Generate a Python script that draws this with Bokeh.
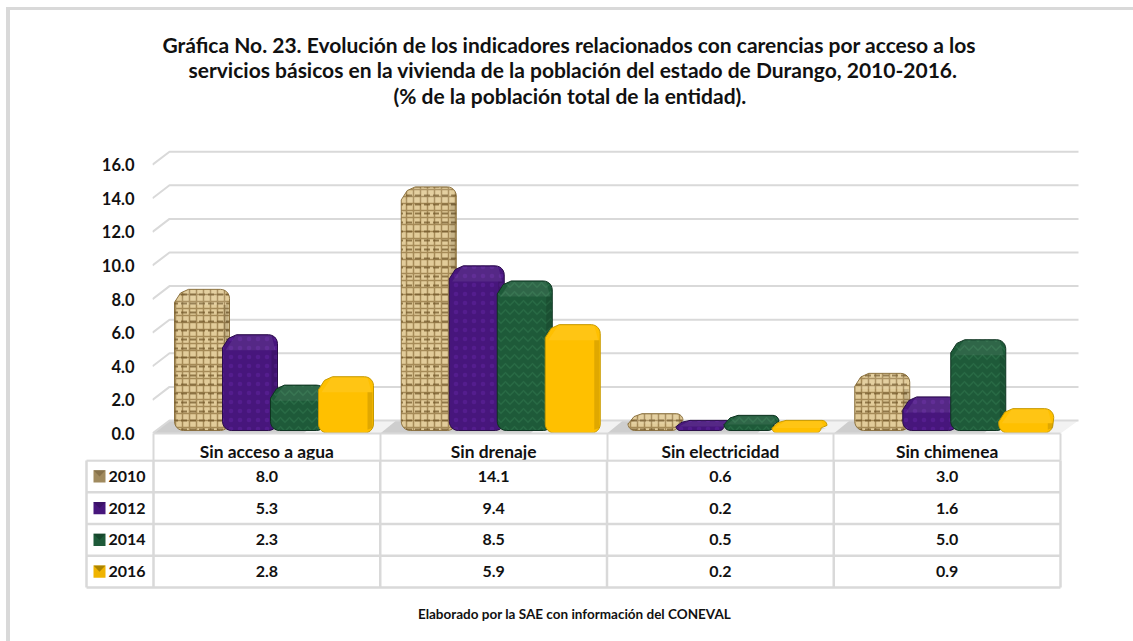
import numpy as np
from bokeh.core.properties import value
from bokeh.embed import file_html
from bokeh.layouts import column
from bokeh.models import FixedTicker, LinearAxis, Range1d, Title
from bokeh.plotting import figure
from bokeh.resources import INLINE

categories = ["Sin acceso a agua", "Sin drenaje", "Sin electricidad", "Sin chimenea"]
years = ["2010", "2012", "2014", "2016"]
v2010 = [8.0, 14.1, 0.6, 3.0]
v2012 = [5.3, 9.4, 0.2, 1.6]
v2014 = [2.3, 8.5, 0.5, 5.0]
v2016 = [2.8, 5.9, 0.2, 0.9]
series = [v2010, v2012, v2014, v2016]
y_ticks = [0, 2, 4, 6, 8, 10, 12, 14, 16]
title_lines = [
    "Gráfica No. 23. Evolución de los indicadores relacionados con carencias por acceso a los",
    "servicios básicos en la vivienda de la población del estado de Durango, 2010-2016.",
    "(% de la población total de la entidad).",
]
note = "Elaborado por la SAE con información del CONEVAL"

FONT = "Lato"
INK = "#111111"
GREY = "#d9d9d9"
fills = ["#E2CC9A", "#47167C", "#1E5A39", "#FFC000"]
hatch_col = ["#8B6D3A", "#5A2096", "#2C7049", "#FFC000"]
hatch_pat = ["cross", "dot", "horizontal_wave", "blank"]
hatch_scl = [7, 9, 9, 7]
edges = ["#8d7443", "#2a0c4a", "#0e3320", "#c79a00"]

KX = 226.75
KY = 16.8
DX = 16 / KX
DY = 13 / KY
BAR_W = 55 / KX
STEP = 48 / KX
LEFT = 21 / KX
TOP_ADD = 0.58
FRAME_H = 326

XSTART = (152 - 153) / KX
XEND = (1133 - 153) / KX

p = figure(width=1123, frame_width=981, frame_height=FRAME_H, frame_align=False,
           min_border_left=142, min_border_right=0, min_border_top=97, min_border_bottom=27,
           output_backend="svg", toolbar_location=None,
           x_range=Range1d(XSTART, XEND), y_range=Range1d(0, FRAME_H / KY),
           x_axis_type=None, y_axis_type=None, outline_line_color=None,
           background_fill_color="white", border_fill_color="white")
p.grid.visible = False

yaxis = LinearAxis(ticker=FixedTicker(ticks=y_ticks), axis_line_color=None,
                   major_tick_line_color=None, minor_tick_line_color=None,
                   major_label_standoff=12, major_label_text_font=FONT,
                   major_label_text_font_style="bold", major_label_text_font_size="16.5px",
                   major_label_text_color=INK,
                   major_label_overrides={t: f"{t:.1f}" for t in y_ticks})
p.add_layout(yaxis, "left")

centers = [i + 0.5 for i in range(len(categories))]
xaxis = LinearAxis(ticker=FixedTicker(ticks=centers, minor_ticks=list(range(len(categories) + 1))),
                   bounds=(0, len(categories)),
                   axis_line_color=GREY, axis_line_width=2,
                   major_tick_line_color=None, minor_tick_line_color=GREY,
                   minor_tick_line_width=2, minor_tick_out=27, minor_tick_in=0,
                   major_label_standoff=-20, major_label_text_font=FONT,
                   major_label_text_font_style="bold", major_label_text_font_size="17.4px",
                   major_label_text_color=INK,
                   major_label_overrides=dict(zip(centers, categories)))
p.add_layout(xaxis, "below")

for line, off, st in zip(reversed(title_lines), [241, 36, 10], [-1, -1, -2]):
    p.add_layout(Title(text=line, align="left", offset=off, standoff=st,
                       text_font=FONT, text_font_style="bold", text_font_size="21px",
                       text_color=INK), "above")

# floor
floor_x = [0, DX, (1078 - 153) / KX, (1060 - 153) / KX]
floor_y = [0, DY, DY, 0]
p.patch(floor_x, floor_y, fill_color="#f2f2f2", line_color=None)
shx, shy = [], []
for i in range(len(categories)):
    a = i - 4 / KX + DX / 4
    shx.append([a, a + DX, a + 165 / KX, a + 150 / KX])
    shy.append([0, DY, DY, 0])
p.patches(shx, shy, fill_color="#c4c4c4", fill_alpha=0.8, line_color=None)

gx = [[XSTART, DX, (1078 - 153) / KX] for t in y_ticks]
gy = [[t, t + DY, t + DY] for t in y_ticks]
p.multi_line(gx, gy, line_color=GREY, line_width=2)


def arc(cx, cy, rx, ry, a0, a1, n=7):
    a = np.radians(np.linspace(a0, a1, n))
    return cx + rx * np.cos(a), cy + ry * np.sin(a)


def bar_outline(x0, v, base):
    """Silhouette of the bevelled column: value -> top edge, through the y scale."""
    x1 = x0 + BAR_W
    top = v + TOP_ADD
    h = (top - base) * KY
    r = min(9.0, h * 0.4)
    inset = max(0.0, (26 - h)) * 0.45 / KX   # low columns look skewed by the perspective
    chy = min(13.0, h * 0.62) / KY
    chx = 12 / KX
    rx, ry = r / KX, r / KY
    xa, ya = arc(x0 + rx, base + ry, rx, ry, 180, 270)
    xb, yb = arc(x1 - rx - inset, base + ry, rx, ry, 270, 360)
    xc, yc = arc(x1 - rx, top - ry, rx, ry, 0, 90)
    xs = np.concatenate([xa, xb, xc, [x0 + chx + 2 / KX, x0 + chx * 0.5, x0]])
    ys = np.concatenate([ya, yb, yc, [top, top - chy * 0.28, top - chy]])
    return xs.tolist(), ys.tolist()


for s, vals in enumerate(series):
    base = 0.03 if s == 3 else 0.18
    xs, ys, tx, ty, rx_, ry_ = [], [], [], [], [], []
    for i, v in enumerate(vals):
        x0 = i + LEFT + s * STEP
        ox, oy = bar_outline(x0, v, base)
        xs.append(ox)
        ys.append(oy)
        top = v + TOP_ADD
        h = top - base
        f = min(DY * 1.2, h * 0.6)
        tx.append([x0 + 3 / KX, x0 + 13 / KX, x0 + BAR_W - 6 / KX, x0 + BAR_W - 2 / KX, x0 + 3 / KX])
        ty.append([top - f, top - 0.05, top - 0.05, top - f, top - f])
        rx_.append([x0 + BAR_W - 6 / KX, x0 + BAR_W - 1 / KX, x0 + BAR_W - 1 / KX, x0 + BAR_W - 6 / KX])
        ry_.append([base + 0.2, base + 0.3, top - f, top - f])
    p.patches(xs, ys, fill_color=fills[s], line_color=edges[s], line_width=1,
              hatch_pattern=hatch_pat[s], hatch_color=hatch_col[s], hatch_scale=hatch_scl[s],
              hatch_weight=1.5, hatch_alpha=0.7)
    if s == 0:
        p.patches(xs, ys, fill_color=None, line_color=None, hatch_pattern="horizontal_dash",
                  hatch_color="#6f5426", hatch_scale=9, hatch_weight=2, hatch_alpha=0.7)
    p.patches(tx, ty, fill_color="white", fill_alpha=0.08, line_color=None)
    p.patches(rx_, ry_, fill_color="black", fill_alpha=0.12, line_color=None)

# table below
T_H = 186
ROW = 31.75
t = figure(width=1123, height=T_H, min_border=0, frame_align=False, output_backend="svg",
           toolbar_location=None, margin=(-5, 0, 0, 0),
           x_range=Range1d((10 - 153) / KX, XEND), y_range=Range1d((T_H - 1) / ROW, -1 / ROW),
           x_axis_type=None, y_axis_type=None, outline_line_color=None,
           background_fill_alpha=0, border_fill_alpha=0)
t.grid.visible = False
xl = (86 - 153) / KX
n_rows = len(years)
t.segment([xl] * (n_rows + 1), list(range(n_rows + 1)), [len(categories)] * (n_rows + 1),
          list(range(n_rows + 1)), line_color=GREY, line_width=2.5)
vx = [xl] + list(range(len(categories) + 1))
t.segment(vx, [0] * len(vx), vx, [n_rows] * len(vx), line_color=GREY, line_width=2.5)

kx0 = (93 - 153) / KX
kx1 = (105 - 153) / KX
rows = list(range(n_rows))
key_h = 0.19
t.quad(left=[kx0] * n_rows, right=[kx1] * n_rows,
       top=[r + 0.5 - key_h for r in rows], bottom=[r + 0.5 + key_h for r in rows],
       fill_color=["#A08A5E", "#47167C", "#1E5A39", "#F0B400"], line_color=None)
t.patches([[kx0, kx1, (kx0 + kx1) / 2] for _ in rows],
          [[r + 0.5 - key_h, r + 0.5 - key_h, r + 0.5] for r in rows],
          fill_color=["#7a6642", "#36105f", "#123f27", "#8f6f00"], fill_alpha=0.7, line_color=None)
t.text(x=[(108 - 153) / KX] * n_rows, y=[r + 0.5 for r in rows], text=years,
       text_font=value(FONT), text_font_style="bold", text_font_size="16px",
       text_align="left", text_baseline="middle", text_color=INK)
for s, vals in enumerate(series):
    t.text(x=centers, y=[s + 0.5] * len(vals), text=[f"{v:.1f}" for v in vals],
           text_font=value(FONT), text_font_style="bold", text_font_size="16px",
           text_align="center", text_baseline="middle", text_color=INK)
t.text(x=[(574 - 153) / KX], y=[4.85], text=[note], text_font=value(FONT),
       text_font_style="bold", text_font_size="13.5px", text_align="center",
       text_baseline="middle", text_color=INK)

layout = column(p, t, spacing=0, styles={
    "border-left": "4px solid #d9d9d9", "border-top": "3px solid #d9d9d9",
    "margin-left": "6px", "margin-top": "7px",
})
open("out.html", "w").write(file_html(layout, INLINE))
